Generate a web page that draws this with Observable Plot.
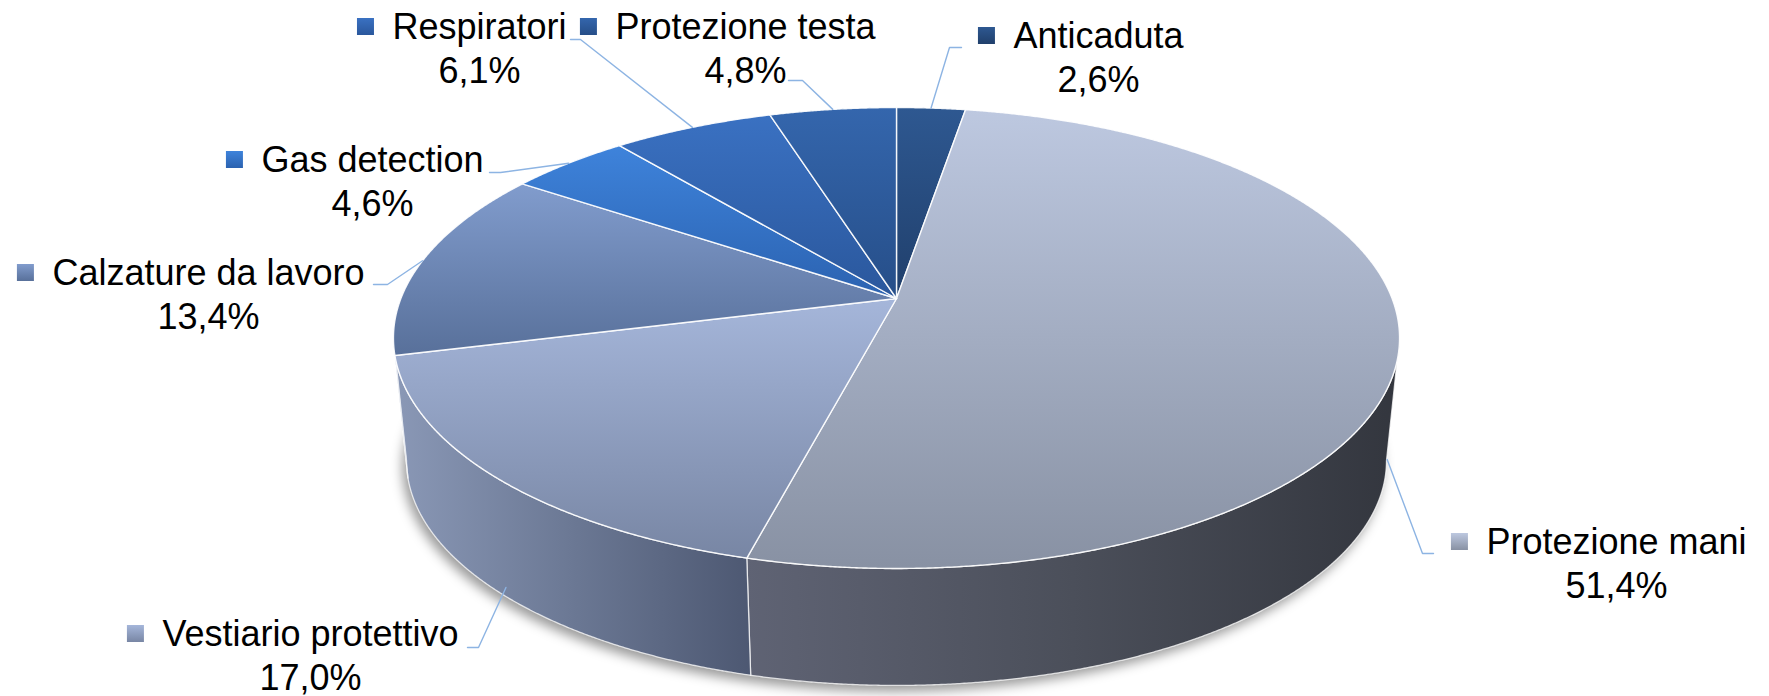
<!DOCTYPE html>
<html><head><meta charset="utf-8">
<script src="https://cdn.jsdelivr.net/npm/d3@7"></script>
<script src="https://cdn.jsdelivr.net/npm/@observablehq/plot@0.6"></script>
<style>html,body{margin:0;padding:0;background:#fff}</style>
</head><body><div id="chart"></div>
<script>
// ---------- DATA ----------
const categories = ["Anticaduta","Protezione mani","Vestiario protettivo","Calzature da lavoro","Gas detection","Respiratori","Protezione testa"];
const shares = [2.6, 51.4, 17.0, 13.4, 4.6, 6.1, 4.8];
const pctLabels = shares.map(v => v.toFixed(1).replace(".", ",") + "%");

// ---------- STYLES ----------
const topFill = [
  ["#2e5891","#203f6b"],
  ["#bdc8e0","#8891a3"],
  ["#a5b6da","#7886a4"],
  ["#819ccd","#58709a"],
  ["#3e83db","#2b62b0"],
  ["#3a71c2","#2a579c"],
  ["#3466ad","#264e88"]
];
const wallFill = [
  ["#2b4f84","#1e3a63"],
  ["#5f6374","#4b4f5a","#33363e"],
  ["#8a98b6","#6b7894","#4d5872"],
  ["#7086ad","#5a6e94"],
  ["#3470c0","#24559a"],
  ["#3264ad","#23508a"],
  ["#2d5c9a","#21477a"]
];
const leaderColor = "#8db4e3";
const FONT = "'Liberation Sans', Arial, sans-serif";
const FS = 36;

// ---------- LAYOUT ----------
const W = 1769, H = 696;
const GEOM = {cx: 896, cy: 298, r: 495.6, tilt: 0.4514, persp: 0.1714, shrink: 0.974, vanishY: 5065};
// label: centre of name line, baseline of name line, leader elbow & end (pixels)
const labelLayout = [
  {cx: 1098, base: 47,  elbow: [949, 47],  end: [961, 47]},
  {cx: 1616, base: 553, elbow: [1422, 553], end: [1433, 553]},
  {cx: 310,  base: 645, elbow: [478, 647], end: [467, 647]},
  {cx: 208,  base: 284, elbow: [387, 284], end: [373, 284]},
  {cx: 372,  base: 171, elbow: [500, 172], end: [489, 172]},
  {cx: 479,  base: 38,  elbow: [580, 39],  end: [570, 39]},
  {cx: 745,  base: 38,  elbow: [802, 80],  end: [788, 80]}
];

// ---------- GEOMETRY ----------
const px2u = x => (x - GEOM.cx) / GEOM.r;
const py2v = y => (y - GEOM.cy) / GEOM.r;
const VV = py2v(GEOM.vanishY);
function topPt(t) {
  const D = -Math.cos(t), k = 1 / (1 - GEOM.persp * D);
  return {x: Math.sin(t) * k, y: GEOM.tilt * D * k};
}
function botPt(t) {
  const p = topPt(t);
  return {x: GEOM.shrink * p.x, y: VV + GEOM.shrink * (p.y - VV)};
}
function sample(a0, a1) {
  const n = Math.max(2, Math.ceil((a1 - a0) / 0.004));
  return d3.range(n + 1).map(i => a0 + (a1 - a0) * i / n);
}
const arcs = d3.pie().sort(null).value(d => d)(shares);
const TS = Math.acos(-GEOM.persp);

const tops = arcs.map(a => [{x: 0, y: 0}, ...sample(a.startAngle, a.endAngle).map(topPt), {x: 0, y: 0}]);
const walls = arcs.map(a => {
  const a0 = Math.max(a.startAngle, TS), a1 = Math.min(a.endAngle, 2 * Math.PI - TS);
  if (a1 <= a0) return null;
  const ts = sample(a0, a1);
  const pts = [...ts.map(topPt), ...ts.slice().reverse().map(botPt)];
  pts.push(pts[0]);
  return pts;
});
const shadowPts = sample(0, 2 * Math.PI).map(botPt);

// leaders
const leaders = arcs.map((a, i) => {
  const m = (a.startAngle + a.endAngle) / 2;
  let anchor = topPt(m);
  if (m > TS && m < 2 * Math.PI - TS) {
    const b = botPt(m);
    anchor = {x: anchor.x + 0.92 * (b.x - anchor.x), y: anchor.y + 0.92 * (b.y - anchor.y)};
  }
  const L = labelLayout[i];
  return [anchor, {x: px2u(L.elbow[0]), y: py2v(L.elbow[1])}, {x: px2u(L.end[0]), y: py2v(L.end[1])}];
});

// label text & keys
const ctx = document.createElement("canvas").getContext("2d");
ctx.font = `${FS}px ${FONT}`;
const labelData = categories.map((c, i) => ({
  x: px2u(labelLayout[i].cx),
  y: py2v(labelLayout[i].base + 44),
  text: c + "\n" + pctLabels[i]
}));
const keyData = categories.map((c, i) => {
  const w = ctx.measureText(c).width;
  const left = labelLayout[i].cx - w / 2 - 35;
  return {i, x1: px2u(left), x2: px2u(left + 17), y1: py2v(labelLayout[i].base - 20), y2: py2v(labelLayout[i].base - 3)};
});

// ---------- DEFS ----------
function defsMark() {
  const defs = d3.create("svg:defs");
  topFill.forEach((c, i) => {
    const g = defs.append("linearGradient").attr("id", "top" + i).attr("x1", 0).attr("y1", 0).attr("x2", 0).attr("y2", 1);
    c.forEach((col, j) => g.append("stop").attr("offset", j / (c.length - 1)).attr("stop-color", col));
  });
  wallFill.forEach((c, i) => {
    const g = defs.append("linearGradient").attr("id", "wall" + i).attr("x1", 0).attr("y1", 0).attr("x2", 1).attr("y2", 0);
    c.forEach((col, j) => g.append("stop").attr("offset", j / (c.length - 1)).attr("stop-color", col));
  });
  const f = defs.append("filter").attr("id", "shadowBlur").attr("x", "-10%").attr("y", "-20%").attr("width", "120%").attr("height", "150%");
  f.append("feGaussianBlur").attr("stdDeviation", 6);
  return defs.node();
}

// ---------- PLOT ----------
const marks = [
  defsMark,
  Plot.line(shadowPts, {x: "x", y: "y", fill: "#000", fillOpacity: 0.4, stroke: "none", dx: -4, dy: 6})
];
walls.forEach((w, i) => {
  if (w) marks.push(Plot.line(w, {x: "x", y: "y", fill: `url(#wall${i})`, stroke: "white", strokeOpacity: 0.75, strokeWidth: 1.3, strokeLinejoin: "round"}));
});
tops.forEach((t, i) => {
  marks.push(Plot.line(t, {x: "x", y: "y", fill: `url(#top${i})`, stroke: "white", strokeOpacity: 0.9, strokeWidth: 1.4, strokeLinejoin: "round"}));
});
leaders.forEach(l => marks.push(Plot.line(l, {x: "x", y: "y", stroke: leaderColor, strokeWidth: 1.4})));
keyData.forEach(k => marks.push(Plot.rect([k], {x1: "x1", x2: "x2", y1: "y1", y2: "y2", fill: `url(#top${k.i})`})));
marks.push(Plot.text(labelData, {x: "x", y: "y", text: "text", textAnchor: "middle", lineAnchor: "bottom", lineHeight: 44 / FS, fontSize: FS, fontFamily: FONT, fill: "#000"}));

const svg = Plot.plot({
  width: W, height: H, margin: 0,
  x: {domain: [px2u(0), px2u(W)], range: [0, W], axis: null},
  y: {domain: [py2v(0), py2v(H)], range: [0, H], axis: null},
  style: {background: "#fff", fontFamily: FONT},
  marks
});
const sg = svg.querySelector('g[aria-label="line"]');
if (sg) sg.setAttribute("filter", "url(#shadowBlur)");
document.getElementById("chart").appendChild(svg);
</script>
</body></html>
